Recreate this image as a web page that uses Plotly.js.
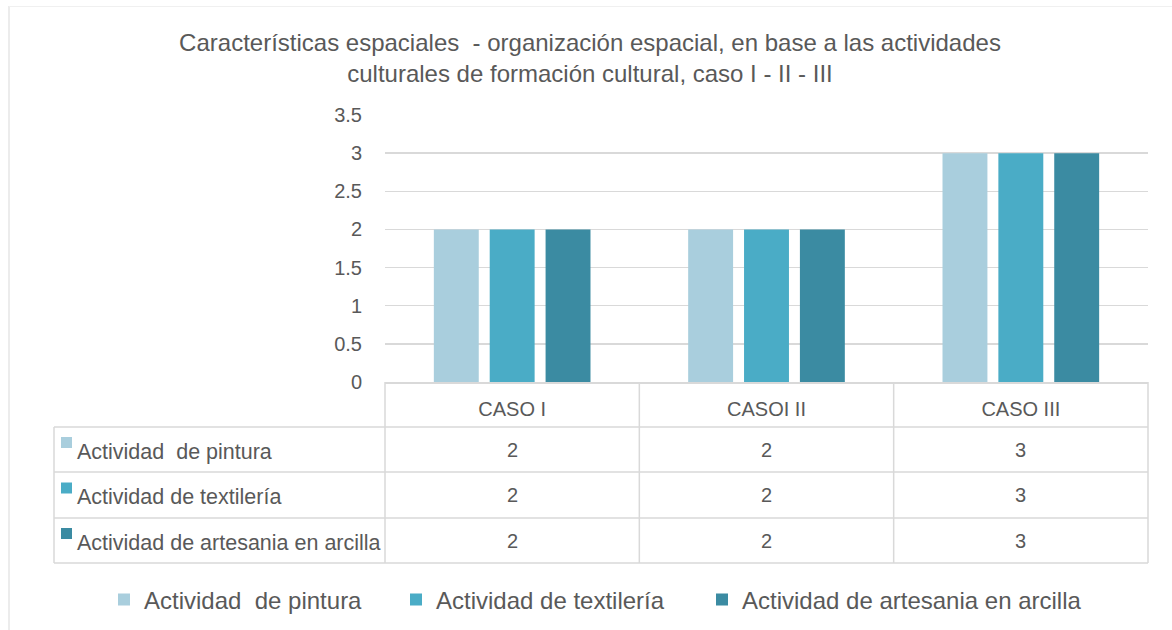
<!DOCTYPE html>
<html>
<head>
<meta charset="utf-8">
<script src="https://cdn.plot.ly/plotly-3.0.1.min.js"></script>
<style>html,body{margin:0;padding:0;background:#fff;}#chart{width:1172px;height:630px;}</style>
</head>
<body>
<div id="chart"></div>
<script>
// ---- data ----
const categories = ['CASO I', 'CASOI II', 'CASO III'];
const seriesNames = ['Actividad  de pintura', 'Actividad de textilería', 'Actividad de artesania en arcilla'];
const pintura = [2, 2, 3];
const textileria = [2, 2, 3];
const arcilla = [2, 2, 3];
const yTicks = [0, 0.5, 1, 1.5, 2, 2.5, 3, 3.5];
const chartTitle = 'Características espaciales  - organización espacial, en base a las actividades<br>culturales de formación cultural, caso I - II - III';

// ---- style ----
const colors = ['#A9CEDD', '#4AACC6', '#3B8BA2'];
const W = 1172, H = 630;
const PL = 385, PR = 1148, PT = 115, PB = 382;
const PW = PR - PL, PH = PB - PT;
const px = x => (x - PL) / PW;
const py = y => (PB - y) / PH;
const gridC = '#D9D9D9';
const txtC = '#595959';
const FONT = 'Arial, "Liberation Sans", sans-serif';
const legendIds = ['legend', 'legend2', 'legend3'];
const legendLeft = [104, 396, 702];

const allSeries = [pintura, textileria, arcilla];
const traces = allSeries.map((vals, i) => ({
  type: 'bar', x: categories, y: vals, name: seriesNames[i], legend: legendIds[i],
  marker: {color: colors[i]}, hoverinfo: 'skip'
}));

// table geometry (pixels)
const rowLines = [427, 472, 518, 563];
const rowCenters = [449.5, 495, 540.5];
const tableLeft = 54;

const shapes = [];
const lineStyle = {color: gridC, width: 1.5};
rowLines.forEach(y => shapes.push({type: 'line', xref: 'paper', yref: 'paper',
  x0: px(tableLeft), x1: 1, y0: py(y), y1: py(y), line: lineStyle}));
shapes.push({type: 'line', xref: 'paper', yref: 'paper', x0: px(tableLeft), x1: px(tableLeft),
  y0: py(rowLines[0]), y1: py(rowLines[3]), line: lineStyle});
for (let i = 0; i <= categories.length; i++) {
  shapes.push({type: 'line', xref: 'paper', yref: 'paper', x0: i / categories.length, x1: i / categories.length,
    y0: 0, y1: py(rowLines[3]), line: lineStyle});
}
// outer chart border
shapes.push({type: 'line', xref: 'paper', yref: 'paper', x0: px(9), x1: px(9), y0: py(6), y1: py(640), line: {color: '#D9D9D9', width: 1}});
shapes.push({type: 'line', xref: 'paper', yref: 'paper', x0: px(9), x1: px(1180), y0: py(6.5), y1: py(6.5), line: {color: '#F0F0F0', width: 1}});

const annotations = [];
seriesNames.forEach((name, r) => {
  const yc = rowCenters[r];
  const off = yc - rowCenters[0];
  shapes.push({type: 'rect', xref: 'paper', yref: 'paper', x0: px(61), x1: px(72), y0: py(437 + off), y1: py(448 + off),
    fillcolor: colors[r], line: {width: 0}});
  annotations.push({xref: 'paper', yref: 'paper', x: px(75), y: py(yc + 2), xanchor: 'left', yanchor: 'middle',
    text: name, showarrow: false, font: {family: FONT, size: 21.5, color: txtC}});
  allSeries[r].forEach((v, c) => {
    annotations.push({xref: 'x', yref: 'paper', x: categories[c], y: py(yc), xanchor: 'center', yanchor: 'middle',
      text: String(v), showarrow: false, font: {family: FONT, size: 20, color: txtC}});
  });
});

const layout = {
  width: W, height: H,
  paper_bgcolor: '#FFFFFF', plot_bgcolor: '#FFFFFF',
  margin: {l: PL, r: W - PR, t: PT, b: H - PB, pad: 0, autoexpand: false},
  font: {family: FONT, color: txtC},
  title: {text: chartTitle, x: 590 / W, xref: 'container', xanchor: 'center',
    y: 1 - 51 / H, yref: 'container', yanchor: 'top',
    font: {family: FONT, size: 24, color: txtC}},
  barmode: 'group', bargap: 0.341, bargroupgap: 0.196,
  xaxis: {type: 'category', range: [-0.5, 2.5], showgrid: false, zeroline: false,
    showline: true, linecolor: gridC, linewidth: 1.5, ticks: '', ticklabelstandoff: 8,
    tickfont: {family: FONT, size: 20, color: txtC}, fixedrange: true},
  yaxis: {range: [0, 3.5], tickvals: yTicks, ticktext: yTicks.map(String), showgrid: true,
    gridcolor: gridC, gridwidth: 1.5, zeroline: false, showline: false, ticks: '',
    ticklabelstandoff: 22, tickfont: {family: FONT, size: 20, color: txtC}, fixedrange: true},
  showlegend: true,
  shapes: shapes, annotations: annotations
};
legendIds.forEach((id, i) => {
  layout[id] = {orientation: 'h', xref: 'paper', yref: 'paper', x: px(legendLeft[i]), xanchor: 'left',
    y: py(600), yanchor: 'middle', font: {family: FONT, size: 24, color: txtC},
    bgcolor: 'rgba(0,0,0,0)'};
});

Plotly.newPlot('chart', traces, layout, {staticPlot: true, displayModeBar: false});
</script>
</body>
</html>
